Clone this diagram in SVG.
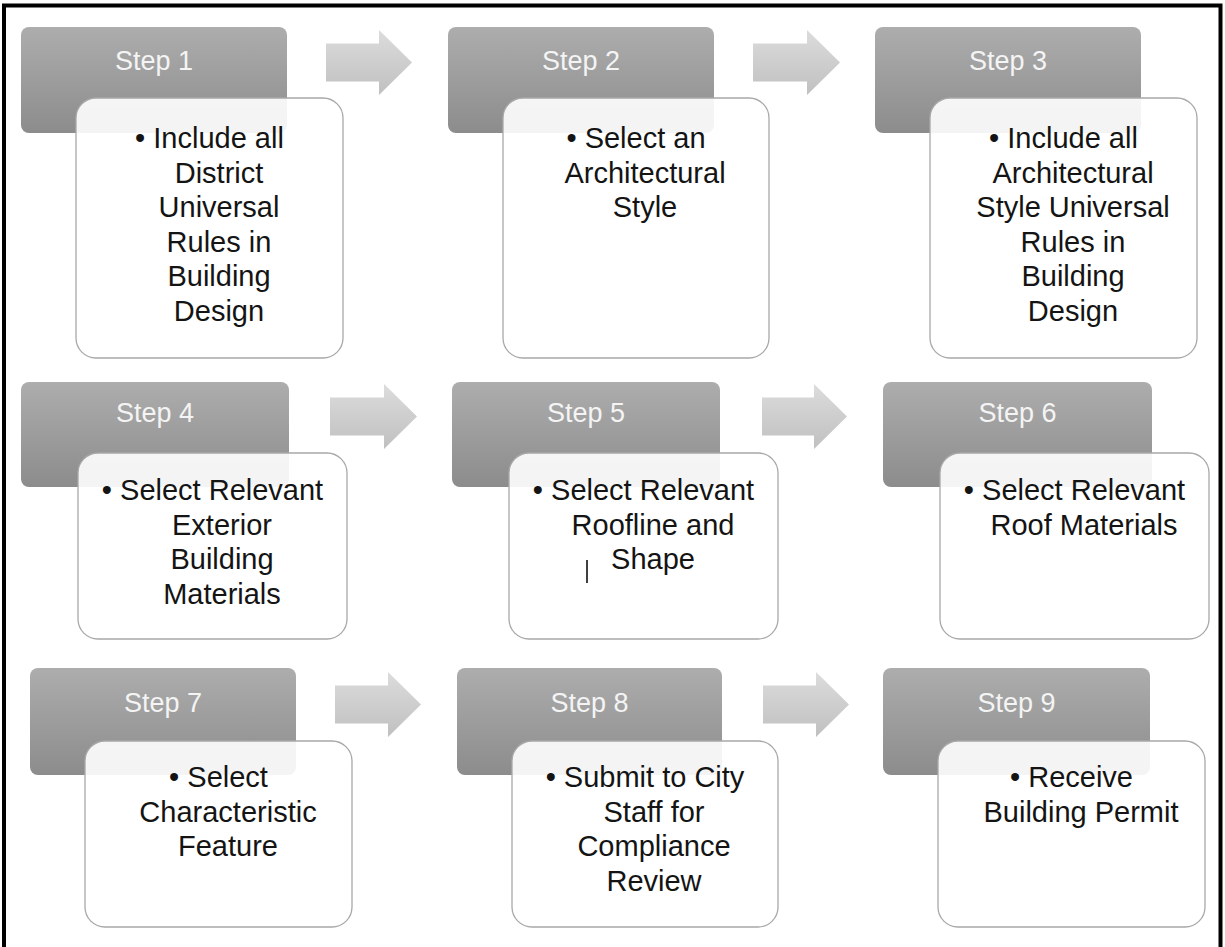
<svg xmlns="http://www.w3.org/2000/svg" width="1225" height="947" viewBox="0 0 1225 947">
<defs>
<linearGradient id="gGray" x1="0" y1="0" x2="0" y2="1">
<stop offset="0" stop-color="#adadad"/>
<stop offset="1" stop-color="#8c8c8c"/>
</linearGradient>
<linearGradient id="gArrow" x1="0" y1="0" x2="0" y2="1">
<stop offset="0" stop-color="#dcdcdc"/>
<stop offset="1" stop-color="#c0c0c0"/>
</linearGradient>
<style>
.step{fill:url(#gGray);}
.card{fill:#ffffff;fill-opacity:0.9;stroke:#a8a8a8;stroke-width:1.3;}
.lbl{font-family:"Liberation Sans",Arial,sans-serif;font-size:27px;fill:#f4f4f4;text-anchor:middle;}
.body{font-family:"Liberation Sans",Arial,sans-serif;font-size:29px;fill:#141414;text-anchor:middle;}
.arrow{fill:url(#gArrow);}
</style>
</defs>
<rect x="0" y="0" width="1225" height="947" fill="#ffffff"/>
<rect x="4" y="5.5" width="1216.5" height="960" fill="none" stroke="#000" stroke-width="4"/>

<g id="connectors">
<path class="arrow" d="M326 43.5 H379 V30 L412 62.5 L379 95 V81.5 H326 Z"/>
<path class="arrow" d="M753 43.5 H807 V30 L840 62.5 L807 95 V81.5 H753 Z"/>
<path class="arrow" d="M330 397.5 H384 V384 L417 416.5 L384 449 V435.5 H330 Z"/>
<path class="arrow" d="M762 397.5 H814 V384 L847 416.5 L814 449 V435.5 H762 Z"/>
<path class="arrow" d="M335 685.5 H388 V672 L421 704.5 L388 737 V723.5 H335 Z"/>
<path class="arrow" d="M763 685.5 H816 V672 L849 704.5 L816 737 V723.5 H763 Z"/>
</g>

<g id="step1">
<rect class="step" x="21" y="27" width="266" height="106" rx="8"/>
<rect class="card" x="76" y="98" width="267" height="260" rx="20"/>
<text class="lbl" x="154" y="70">Step 1</text>
<text class="body" x="209.5" y="148">• Include all</text>
<text class="body" x="219" y="182.5">District</text>
<text class="body" x="219" y="217">Universal</text>
<text class="body" x="219" y="251.5">Rules in</text>
<text class="body" x="219" y="286">Building</text>
<text class="body" x="219" y="320.5">Design</text>
</g>

<g id="step2">
<rect class="step" x="448" y="27" width="266" height="106" rx="8"/>
<rect class="card" x="503" y="98" width="266" height="260" rx="20"/>
<text class="lbl" x="581" y="70">Step 2</text>
<text class="body" x="636" y="148">• Select an</text>
<text class="body" x="645" y="182.5">Architectural</text>
<text class="body" x="645" y="217">Style</text>
</g>

<g id="step3">
<rect class="step" x="875" y="27" width="266" height="106" rx="8"/>
<rect class="card" x="930" y="98" width="267" height="260" rx="20"/>
<text class="lbl" x="1008" y="70">Step 3</text>
<text class="body" x="1063.5" y="148">• Include all</text>
<text class="body" x="1073" y="182.5">Architectural</text>
<text class="body" x="1073" y="217">Style Universal</text>
<text class="body" x="1073" y="251.5">Rules in</text>
<text class="body" x="1073" y="286">Building</text>
<text class="body" x="1073" y="320.5">Design</text>
</g>

<g id="step4">
<rect class="step" x="21" y="382" width="268" height="105" rx="8"/>
<rect class="card" x="78" y="453" width="269" height="186" rx="20"/>
<text class="lbl" x="155" y="422">Step 4</text>
<text class="body" x="212.5" y="500">• Select Relevant</text>
<text class="body" x="222" y="534.5">Exterior</text>
<text class="body" x="222" y="569">Building</text>
<text class="body" x="222" y="603.5">Materials</text>
</g>

<g id="step5">
<rect class="step" x="452" y="382" width="268" height="105" rx="8"/>
<rect class="card" x="509" y="453" width="269" height="186" rx="20"/>
<text class="lbl" x="586" y="422">Step 5</text>
<text class="body" x="643.5" y="500">• Select Relevant</text>
<text class="body" x="653" y="534.5">Roofline and</text>
<text class="body" x="653" y="569">Shape</text>
<line x1="587" y1="560" x2="587" y2="583" stroke="#000" stroke-width="1.5"/>
</g>

<g id="step6">
<rect class="step" x="883" y="382" width="269" height="105" rx="8"/>
<rect class="card" x="940" y="453" width="269" height="186" rx="20"/>
<text class="lbl" x="1017.5" y="422">Step 6</text>
<text class="body" x="1074.5" y="500">• Select Relevant</text>
<text class="body" x="1084" y="534.5">Roof Materials</text>
</g>

<g id="step7">
<rect class="step" x="30" y="668" width="266" height="107" rx="8"/>
<rect class="card" x="85" y="741" width="267" height="186" rx="20"/>
<text class="lbl" x="163" y="712">Step 7</text>
<text class="body" x="218.5" y="787">• Select</text>
<text class="body" x="228" y="821.5">Characteristic</text>
<text class="body" x="228" y="856">Feature</text>
</g>

<g id="step8">
<rect class="step" x="457" y="668" width="265" height="107" rx="8"/>
<rect class="card" x="512" y="741" width="266" height="186" rx="20"/>
<text class="lbl" x="589.5" y="712">Step 8</text>
<text class="body" x="645" y="787">• Submit to City</text>
<text class="body" x="654" y="821.5">Staff for</text>
<text class="body" x="654" y="856">Compliance</text>
<text class="body" x="654" y="890.5">Review</text>
</g>

<g id="step9">
<rect class="step" x="883" y="668" width="267" height="107" rx="8"/>
<rect class="card" x="938" y="741" width="267" height="186" rx="20"/>
<text class="lbl" x="1016.5" y="712">Step 9</text>
<text class="body" x="1071.5" y="787">• Receive</text>
<text class="body" x="1081" y="821.5">Building Permit</text>
</g>
</svg>
